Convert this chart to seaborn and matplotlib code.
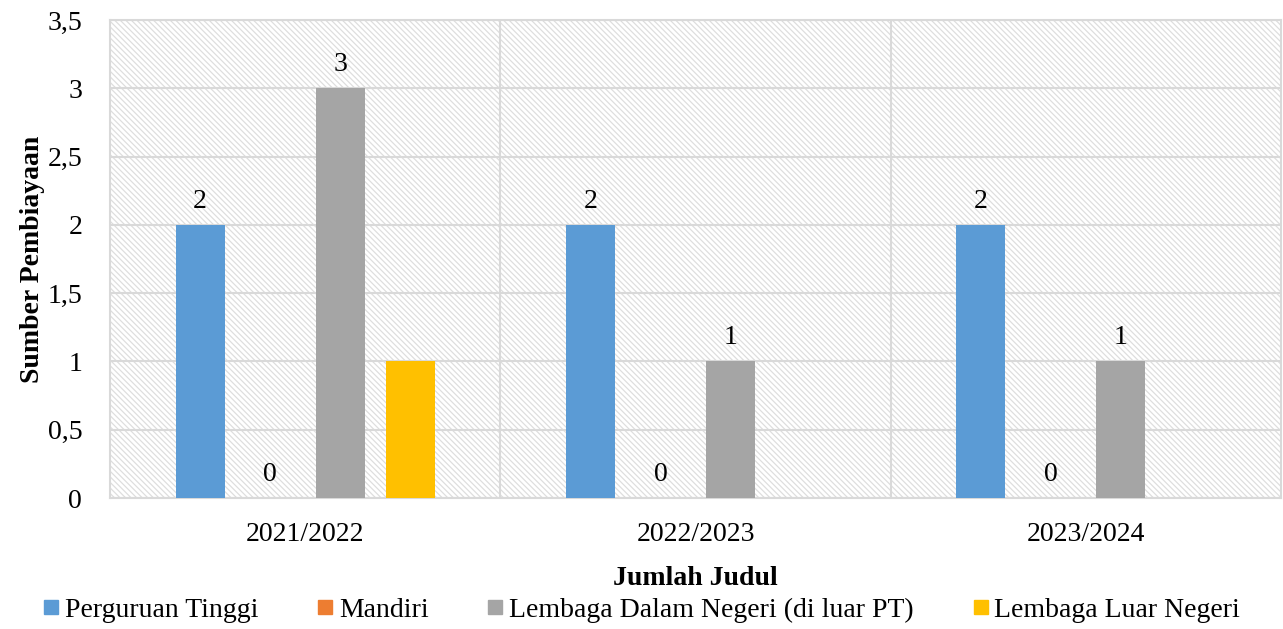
import numpy as np
import pandas as pd
import matplotlib
matplotlib.use("Agg")
import matplotlib.pyplot as plt
import seaborn as sns
from matplotlib.patches import Rectangle
from matplotlib.lines import Line2D
from matplotlib.ticker import FuncFormatter, MultipleLocator

# data
years = ["2021/2022", "2022/2023", "2023/2024"]
sources = ["Perguruan Tinggi", "Mandiri", "Lembaga Dalam Negeri (di luar PT)", "Lembaga Luar Negeri"]
perguruan_tinggi = [2, 2, 2]
mandiri = [0, 0, 0]
dalam_negeri = [3, 1, 1]
luar_negeri = [1, np.nan, np.nan]
colors = ["#5B9BD5", "#ED7D31", "#A5A5A5", "#FFC000"]
# the reference shows no value label on the "Lembaga Luar Negeri" bar
show_label = [True, True, True, False]

df = pd.DataFrame({
    "tahun": years * 4,
    "sumber": [s for s in sources for _ in years],
    "nilai": perguruan_tinggi + mandiri + dalam_negeri + luar_negeri,
})

sns.set_theme(style="white")
plt.rcParams["font.family"] = ["Liberation Serif", "DejaVu Serif"]
plt.rcParams["text.color"] = "black"
plt.rcParams["xtick.color"] = "black"
plt.rcParams["ytick.color"] = "black"
plt.rcParams["axes.labelcolor"] = "black"
plt.rcParams["hatch.color"] = "#dedede"
plt.rcParams["hatch.linewidth"] = 0.9
grid_c = "#d9d9d9"
fs = 20

fig = plt.figure(figsize=(12.83, 6.29), dpi=100)
ax = fig.add_axes([110 / 1283, 1 - 498 / 629, 1171 / 1283, 478 / 629])

# hatched plot-area background
ax.add_patch(Rectangle((0, 0), 1, 1, transform=ax.transAxes, facecolor="white",
                       edgecolor="#dedede", hatch="\\" * 6, linewidth=0, zorder=0))

sns.barplot(data=df, x="tahun", y="nilai", hue="sumber", order=years, hue_order=sources,
            palette=colors, width=0.718, gap=0.3, errorbar=None, saturation=1,
            linewidth=0, legend=False, ax=ax, zorder=3)

for cont, show in zip(ax.containers, show_label):
    if not show:
        continue
    labels = ["" if np.isnan(v) else f"{v:g}" for v in cont.datavalues]
    ax.bar_label(cont, labels=labels, padding=8, fontsize=fs, color="black")

ax.set_xlim(-0.5, 2.5)
ax.set_ylim(0, 3.5)
ax.yaxis.set_major_locator(MultipleLocator(0.5))
ax.yaxis.set_major_formatter(FuncFormatter(lambda v, _: f"{v:g}".replace(".", ",")))
ax.set_xticks([0.5, 1.5], minor=True)
ax.grid(axis="y", which="major", color=grid_c, linewidth=1.5, zorder=1)
ax.grid(axis="x", which="minor", color=grid_c, linewidth=1.5, zorder=1)
ax.grid(axis="x", which="major", visible=False)
ax.set_axisbelow(True)
ax.tick_params(axis="both", which="both", length=0, labelsize=fs)
ax.tick_params(axis="x", pad=17)
ax.tick_params(axis="y", pad=20)
for sp in ax.spines.values():
    sp.set_color(grid_c)
    sp.set_linewidth(1.5)

ax.set_xlabel("Jumlah Judul", fontsize=fs, fontweight="bold", labelpad=14)
ax.set_ylabel("Sumber Pembiayaan", fontsize=fs, fontweight="bold", labelpad=2)

handles = [Line2D([], [], marker="s", linestyle="", markersize=10, color=c) for c in colors]
fig.legend(handles, sources, loc="center", bbox_to_anchor=(0.5, 1 - 610 / 629), ncol=4,
           frameon=False, fontsize=fs, handlelength=0.6, handletextpad=0.2,
           columnspacing=2.1, borderaxespad=0)

fig.savefig("out.png", dpi=100)
